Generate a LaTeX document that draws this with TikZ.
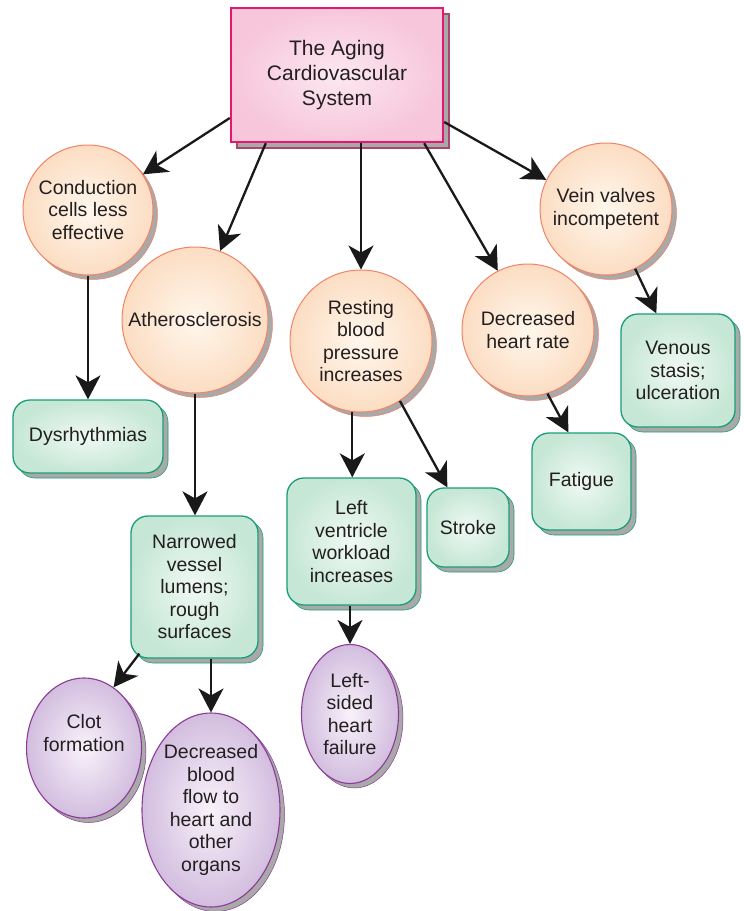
\documentclass[tikz,border=0pt]{standalone}
\usepackage{fontspec}
\setmainfont{Liberation Sans}
\usetikzlibrary{shapes.geometric,shadows,arrows.meta}
\definecolor{txt}{HTML}{231F20}
\definecolor{peachb}{HTML}{EF8468}
\definecolor{peachin}{HTML}{FFF7EC}
\definecolor{peachout}{HTML}{FCDDC3}
\definecolor{mintb}{HTML}{1A9E78}
\definecolor{mintin}{HTML}{F0F9F4}
\definecolor{mintout}{HTML}{C6E7D6}
\definecolor{lavb}{HTML}{8A3C96}
\definecolor{lavin}{HTML}{F8F2FA}
\definecolor{lavout}{HTML}{D3BDDF}
\definecolor{pinkb}{HTML}{E5176F}
\definecolor{pinkin}{HTML}{FCE8F1}
\definecolor{pinkout}{HTML}{F7C6DB}
\definecolor{shgray}{HTML}{A9A9A9}
\definecolor{shpink}{HTML}{A84870}
\begin{document}
\begin{tikzpicture}[x=1pt,y=-1pt,
  base/.style={align=center, text=txt, font=\fontsize{19.5}{22.5}\selectfont, inner sep=0pt},
  circ/.style={base, circle, draw=peachb, line width=1pt, inner color=peachin, outer color=peachout,
    minimum size=#1,
    drop shadow={shadow xshift=4.5pt,shadow yshift=-4.5pt,opacity=1,fill=shgray,draw=peachb,line width=0.5pt}},
  box/.style n args={2}{base, rectangle, rounded corners=17pt, draw=mintb, line width=1.3pt,
    inner color=mintin, outer color=mintout, minimum width=#1, minimum height=#2,
    drop shadow={shadow xshift=5pt,shadow yshift=-5pt,opacity=1,fill=shgray,draw=mintb,line width=0.6pt}},
  oval/.style n args={2}{base, ellipse, draw=lavb, line width=1.1pt,
    inner color=lavin, outer color=lavout, minimum width=#1, minimum height=#2,
    drop shadow={shadow xshift=4.5pt,shadow yshift=-4.5pt,opacity=1,fill=shgray,draw=lavb,line width=0.5pt}},
  titlebox/.style={base, rectangle, draw=pinkb, line width=2.4pt, inner color=pinkin, outer color=pinkout,
    minimum width=212pt, minimum height=134pt, font=\fontsize{21}{25}\selectfont,
    drop shadow={shadow xshift=6pt,shadow yshift=-6pt,opacity=1,fill=shgray,draw=shpink,line width=1.2pt}},
  arr/.style={draw=black!90, line width=2.3pt, -{Stealth[length=24pt,width=25pt,inset=7pt]}}
]
\useasboundingbox (0,0) rectangle (744,911);

% top
\node[titlebox] (title) at (337,75) {The Aging\\Cardiovascular\\System};

% circles
\node[circ=130pt] (cond) at (88,210) {Conduction\\cells less\\effective};
\node[circ=146pt] (ath) at (195,320) {Atherosclerosis};
\node[circ=142pt] (rest) at (361,341) {Resting\\blood\\pressure\\increases};
\node[circ=132pt] (dhr) at (528,330) {Decreased\\heart rate};
\node[circ=132pt] (vein) at (606,209) {Vein valves\\incompetent};

% boxes
\node[box={150pt}{73pt}] (dys) at (88,436.5) {Dysrhythmias};
\node[box={127pt}{142pt}] (narrow) at (194.5,587) {Narrowed\\vessel\\lumens;\\rough\\surfaces};
\node[box={129pt}{127pt}] (lv) at (351.5,541.5) {Left\\ventricle\\workload\\increases};
\node[box={82pt}{79pt}] (stroke) at (468,527.5) {Stroke};
\node[box={99pt}{97pt}] (fat) at (581.5,481.5) {Fatigue};
\node[box={114pt}{113pt}] (ven) at (678,370.5) {Venous\\stasis;\\ulceration};

% ovals
\node[oval={102pt}{140pt}] (clot) at (84,748) {Clot\\formation\\[8pt]};
\node[oval={138pt}{194pt}] (dbf) at (211,810) {Decreased\\blood\\flow to\\heart and\\other\\organs};
\node[oval={97pt}{139pt}] (lsh) at (350,714) {Left-\\sided\\heart\\failure};

% connectors
\draw[arr] ([yshift=-43pt]title.west) -- (cond.33);
\draw[arr] ([xshift=36pt]title.south west) -- (ath.70);
\draw[arr] (title.south -| rest.north) -- (rest.north);
\draw[arr] ([xshift=-20pt]title.south east) -- (dhr.117);
\draw[arr] ([yshift=-47pt]title.east) -- (vein.154);

\draw[arr] (cond.south) -- (cond.south |- dys.north);
\draw[arr] (ath.south) -- (ath.south |- narrow.north);
\draw[arr] (rest.263) -- (rest.263 |- lv.north);
\draw[arr] (rest.303) -- ([xshift=21pt]stroke.north west);
\draw[arr] (dhr.287) -- ([xshift=37pt]fat.north west);
\draw[arr] (vein.296) -- ([xshift=36pt]ven.north west);

\draw[arr] ([xshift=9pt,yshift=5pt]narrow.south west) -- (clot.64);
\draw[arr] (narrow.south -| dbf.north) -- (dbf.north);
\draw[arr] (lv.south -| lsh.north) -- (lsh.north);
\end{tikzpicture}
\end{document}
